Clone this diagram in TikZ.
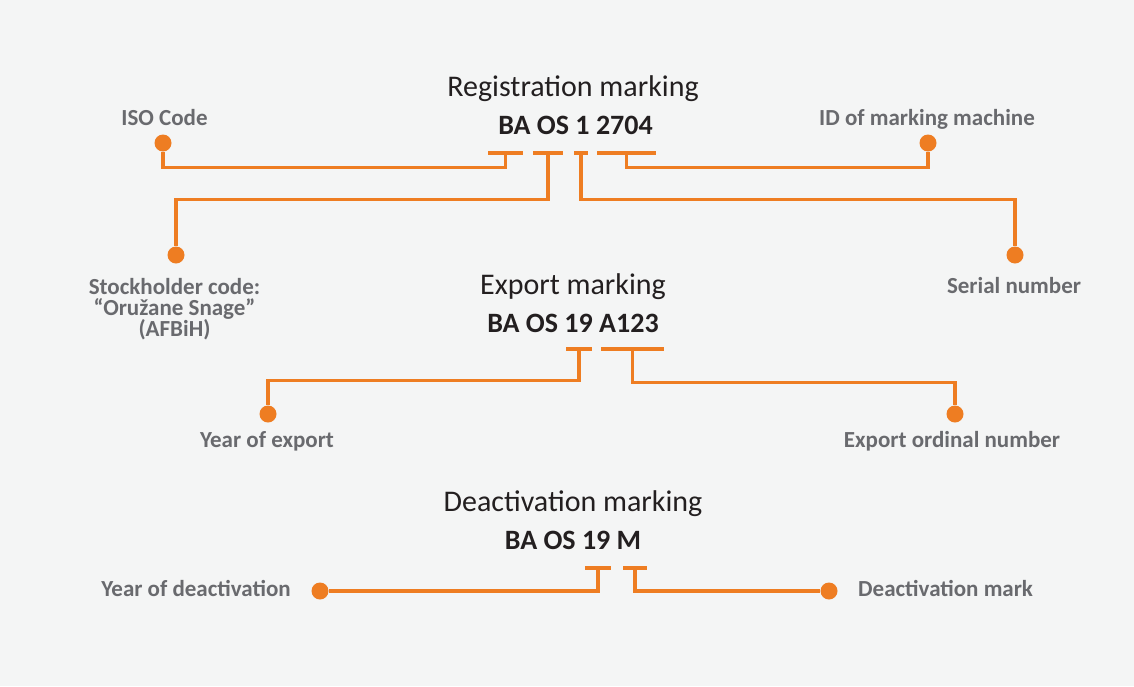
\documentclass[tikz,border=0pt]{standalone}
\usepackage{fontspec}
\setmainfont{Carlito}

\definecolor{mkorange}{RGB}{238,125,34}
\definecolor{mkgray}{RGB}{105,106,110}
\definecolor{mkink}{RGB}{35,31,32}
\definecolor{mkback}{RGB}{244,245,245}

\begin{document}
\begin{tikzpicture}[
  x=1pt, y=-1pt,
  head/.style={font=\fontsize{30}{34}\selectfont, text=mkink, anchor=base, inner sep=0pt},
  plate/.style={font=\fontsize{28}{32}\selectfont\bfseries, text=mkink, anchor=base, inner sep=0pt},
  lbl/.style={font=\fontsize{23}{21}\selectfont\bfseries, text=mkgray, anchor=base, inner sep=0pt, align=center},
  bar/.style={fill=mkorange, inner sep=0pt, minimum height=4pt},
  dot/.style={circle, fill=mkorange, inner sep=0pt, minimum size=17pt},
  link/.style={draw=mkorange, line width=3.4pt},
]
\useasboundingbox (0,0) rectangle (1134,686);
\fill[mkback] (0,0) rectangle (1134,686);

% registration marking
\node[head]  (regHead)  at (573,96)    {Registration marking};
\node[plate] (regPlate) at (575.5,134) {BA OS 1 2704};
\node[bar, minimum width=35pt] (isoBar) at (505.5,153) {};
\node[bar, minimum width=30pt] (stkBar) at (548,153)   {};
\node[bar, minimum width=14pt] (serBar) at (581,153)   {};
\node[bar, minimum width=59pt] (idBar)  at (626.5,153) {};
\node[dot] (isoDot) at (163,143)  {};
\node[dot] (idDot)  at (928,143)  {};
\node[dot] (stkDot) at (176,255)  {};
\node[dot] (serDot) at (1015,255) {};
\node[lbl] (isoLbl) at (164.5,125) {ISO Code};
\node[lbl] (idLbl)  at (927,125)   {ID of marking machine};
\node[lbl, anchor=north] (stkLbl) at (174.5,278) {Stockholder code:\\“Oružane Snage”\\(AFBiH)};
\node[lbl] (serLbl) at (1014,293)  {Serial number};
\draw[link] (isoBar.south) -- ++(0,12) -| (isoDot);
\draw[link] (idBar.south)  -- ++(0,12) -| (idDot);
\draw[link] (stkBar.south) -- ++(0,44) -| (stkDot);
\draw[link] (serBar.south) -- ++(0,44) -| (serDot);

% export marking
\node[head]  (expHead)  at (573,294) {Export marking};
\node[plate] (expPlate) at (573,332) {BA OS 19 A123};
\node[bar, minimum width=26pt] (yexBar) at (579,349)   {};
\node[bar, minimum width=63pt] (ordBar) at (632.5,349) {};
\node[dot] (yexDot) at (268,414) {};
\node[dot] (ordDot) at (955,414) {};
\node[lbl] (yexLbl) at (267,447) {Year of export};
\node[lbl] (ordLbl) at (952,447) {Export ordinal number};
\draw[link] (yexBar.south) -- ++(0,29) -| (yexDot);
\draw[link] (ordBar.south) -- ++(0,31) -| (ordDot);

% deactivation marking
\node[head]  (deaHead)  at (573,511) {Deactivation marking};
\node[plate] (deaPlate) at (573,549) {BA OS 19 M};
\node[bar, minimum width=26pt] (ydeBar) at (598,568) {};
\node[bar, minimum width=24pt] (dmkBar) at (635,568) {};
\node[dot] (ydeDot) at (320,591) {};
\node[dot] (dmkDot) at (829,591) {};
\node[lbl, anchor=base east] (ydeLbl) at (291,596) {Year of deactivation};
\node[lbl, anchor=base west] (dmkLbl) at (858,596) {Deactivation mark};
\draw[link] (ydeBar.south) |- (ydeDot);
\draw[link] (dmkBar.south) |- (dmkDot);
\end{tikzpicture}
\end{document}
